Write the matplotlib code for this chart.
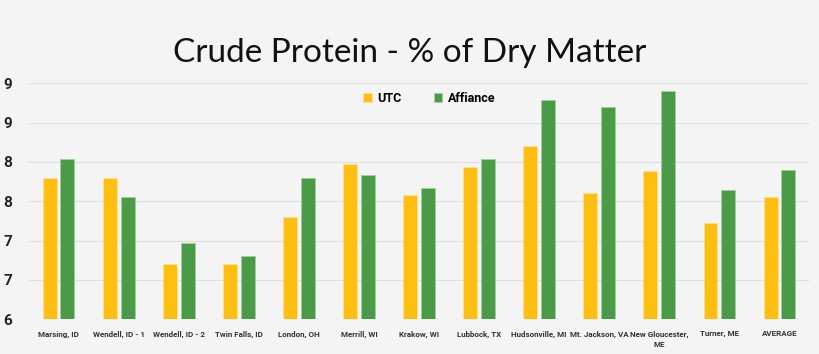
import numpy as np
import matplotlib.pyplot as plt

plt.rcParams['font.family'] = ['Roboto', 'DejaVu Sans']

locations = ["Marsing, ID", "Wendell, ID - 1", "Wendell, ID - 2", "Twin Falls, ID",
             "London, OH", "Merrill, WI", "Krakow, WI", "Lubbock, TX",
             "Hudsonville, MI", "Mt. Jackson, VA", "New Gloucester,\nME",
             "Turner, ME", "AVERAGE"]
utc = [7.80, 7.80, 6.70, 6.70, 7.30, 7.97, 7.58, 7.93, 8.20, 7.60, 7.89, 7.22, 7.56]
affiance = [8.04, 7.55, 6.97, 6.80, 7.79, 7.83, 7.67, 8.04, 8.79, 8.70, 8.90, 7.64, 7.90]
yticks = [6, 6.5, 7, 7.5, 8, 8.5, 9]
ytick_labels = ["6", "7", "7", "8", "8", "9", "9"]

bg = "#f4f4f4"
fig = plt.figure(figsize=(8.2, 3.54), dpi=100, facecolor=bg)
ax = fig.add_axes([0.035, 0.098, 0.952, 0.667], facecolor=bg)

x = np.arange(len(locations))
w = 0.233
ax.bar(x - 0.146, utc, w, color="#FFBF12", edgecolor="#ffe08a", linewidth=0.6,
       label="UTC", zorder=3)
ax.bar(x + 0.146, affiance, w, color="#4a9a48", edgecolor="#9fd09c", linewidth=0.6,
       label="Affiance", zorder=3)

ax.set_ylim(6, 9)
ax.set_xlim(-0.5, len(locations) - 0.5)
ax.set_yticks(yticks)
ax.set_yticklabels(ytick_labels, fontsize=11, fontweight="bold", color="#222222")
ax.set_xticks(x)
ax.set_xticklabels(locations, fontsize=5.8, fontweight="bold", color="#333333",
                   linespacing=1.5)
ax.tick_params(length=0, pad=8)
ax.tick_params(axis="y", pad=12)
ax.grid(axis="y", color="#e0e0e0", linewidth=0.8, zorder=0)
for s in ax.spines.values():
    s.set_visible(False)

leg = ax.legend(loc="upper center", bbox_to_anchor=(0.513, 1.01), ncol=2, frameon=False,
                prop={"weight": "bold", "size": 9}, handlelength=0.7, handleheight=0.7,
                columnspacing=2.6, handletextpad=0.4)

fig.text(0.5, 0.85, "Crude Protein - % of Dry Matter", ha="center", va="center",
         fontsize=24, family="Lato", color="#111111")

fig.savefig("out.png", dpi=100, facecolor=bg)
